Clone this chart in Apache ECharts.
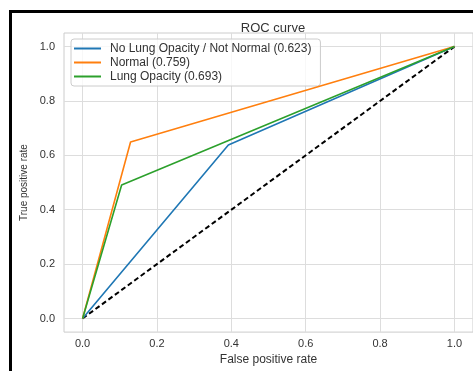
<!DOCTYPE html>
<html>
<head>
<meta charset="utf-8">
<script src="https://cdn.jsdelivr.net/npm/echarts@6/dist/echarts.min.js"></script>
<style>
  html, body {margin: 0; padding: 0; background: #fff;}
  #frame {position: absolute; left: 9px; top: 10px; right: -10px; bottom: -10px; border-left: 3px solid #000; border-top: 3px solid #000;}
  #chart {position: absolute; left: 0; top: 0; width: 473px; height: 371px;}
</style>
</head>
<body>
<div id="frame"></div>
<div id="chart"></div>
<script>
// ROC curves: each series is [fpr, tpr] points
const seriesNames = ['No Lung Opacity / Not Normal (0.623)', 'Normal (0.759)', 'Lung Opacity (0.693)'];
const seriesColors = ['#1f77b4', '#ff7f0e', '#2ca02c'];
const noOpacityRoc = [[0, 0], [0.392, 0.638], [1, 1]];
const normalRoc = [[0, 0], [0.129, 0.649], [1, 1]];
const lungOpacityRoc = [[0, 0], [0.105, 0.491], [1, 1]];
const chanceLine = [[0, 0], [1, 1]];
const tickValues = [0, 0.2, 0.4, 0.6, 0.8, 1.0];

const rocData = [noOpacityRoc, normalRoc, lungOpacityRoc];

const chart = echarts.init(document.getElementById('chart'));
const font = 'Liberation Sans, Arial, sans-serif';
const textColor = '#333';

const axisCommon = {
  type: 'value',
  min: -0.05,
  max: 1.05,
  axisLine: {show: false},
  axisTick: {show: false, customValues: tickValues},
  splitLine: {show: true, lineStyle: {color: '#dddddd', width: 1}},
  nameLocation: 'middle',
};

chart.setOption({
  animation: false,
  title: {
    text: 'ROC curve',
    left: 268,
    textAlign: 'center',
    top: 17,
    textStyle: {color: textColor, fontFamily: font, fontSize: 13, fontWeight: 'normal'}
  },
  grid: {
    left: 64, top: 33, width: 410, height: 307,
    show: true, borderColor: '#cccccc', borderWidth: 1, backgroundColor: '#fff'
  },
  legend: {
    orient: 'vertical',
    left: 71, top: 39,
    padding: [3, 9, 3, 3],
    itemGap: 1,
    itemWidth: 27,
    itemHeight: 2,
    icon: 'rect',
    borderColor: '#cccccc',
    borderWidth: 1,
    borderRadius: 3,
    backgroundColor: 'rgba(255,255,255,0.8)',
    textStyle: {color: textColor, fontFamily: font, fontSize: 12, lineHeight: 13, padding: [0, 0, 0, 4]},
    data: seriesNames
  },
  xAxis: Object.assign({}, axisCommon, {
    name: 'False positive rate',
    nameGap: 20,
    nameTextStyle: {color: textColor, fontFamily: font, fontSize: 12},
    axisLabel: {
      customValues: tickValues, margin: 6, color: textColor, fontFamily: font, fontSize: 11,
      formatter: v => v.toFixed(1)
    }
  }),
  yAxis: Object.assign({}, axisCommon, {
    name: 'True positive rate',
    nameGap: 31,
    nameTextStyle: {color: textColor, fontFamily: font, fontSize: 10},
    axisLabel: {
      customValues: tickValues, margin: 9, color: textColor, fontFamily: font, fontSize: 11,
      formatter: v => v.toFixed(1)
    }
  }),
  series: rocData.map((d, i) => ({
    name: seriesNames[i],
    type: 'line',
    data: d,
    showSymbol: false,
    symbol: 'none',
    color: seriesColors[i],
    lineStyle: {width: 1.6, color: seriesColors[i]},
    z: 3 + i
  })).concat([{
    type: 'line',
    data: chanceLine,
    showSymbol: false,
    symbol: 'none',
    lineStyle: {width: 2, color: '#000', type: [5, 3]},
    z: 2
  }])
});
</script>
</body>
</html>
